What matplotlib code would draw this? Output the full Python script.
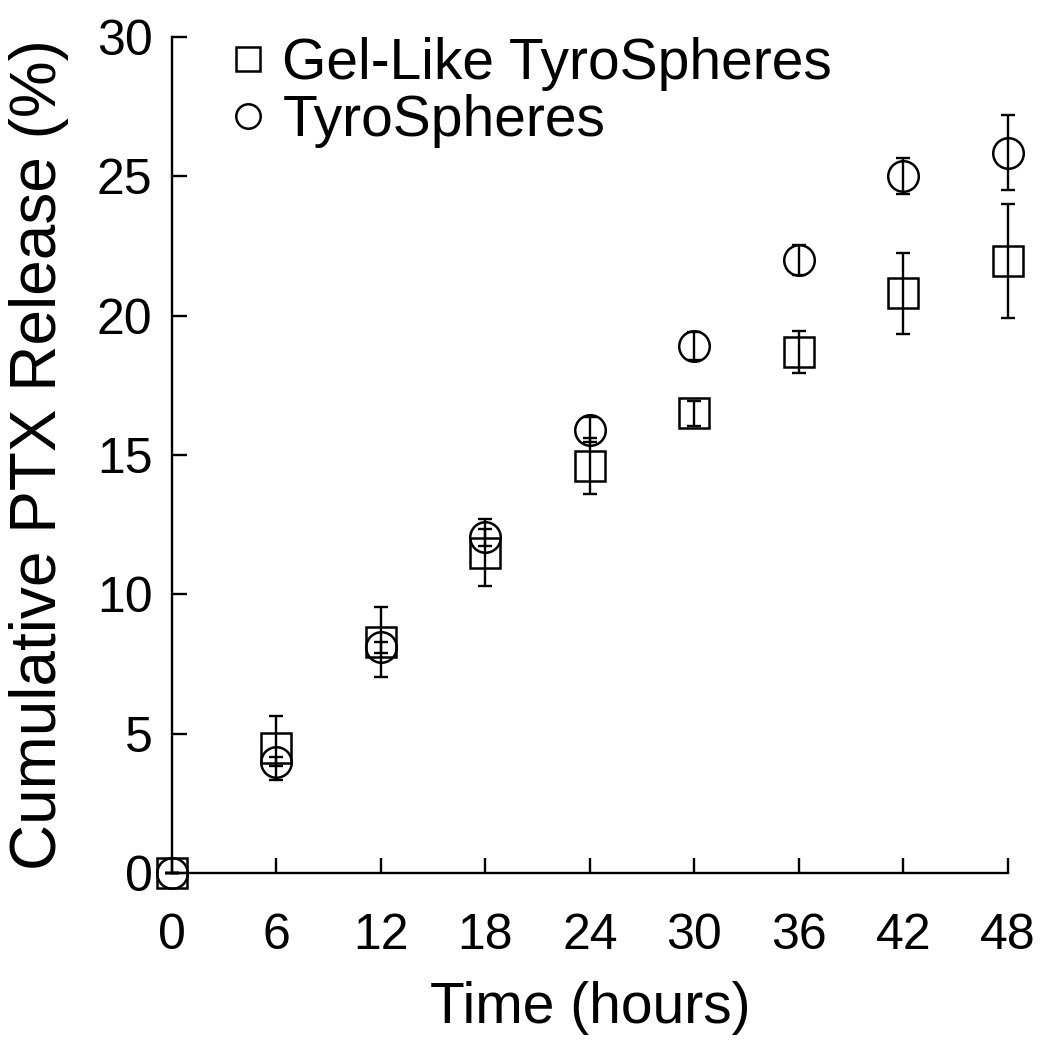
import numpy as np
import matplotlib
matplotlib.use('Agg')
import matplotlib.pyplot as plt

# --- データ ---
time_h = [0, 6, 12, 18, 24, 30, 36, 42, 48]
gel_mean = [0.0, 4.5, 8.3, 11.5, 14.6, 16.5, 18.7, 20.8, 21.95]
gel_err = [0.0, 1.15, 1.25, 1.2, 1.0, 0.45, 0.75, 1.45, 2.05]
tyro_mean = [0.0, 4.0, 8.1, 12.05, 15.9, 18.9, 22.0, 25.0, 25.85]
tyro_err = [0.0, 0.15, 0.2, 0.3, 0.45, 0.5, 0.55, 0.65, 1.35]

x_ticks = [0, 6, 12, 18, 24, 30, 36, 42, 48]
y_ticks = [0, 5, 10, 15, 20, 25, 30]

plt.rcParams['font.family'] = ['Liberation Sans', 'DejaVu Sans']

fig = plt.figure(figsize=(10.5, 10.4), dpi=100)
ax = fig.add_axes([0.1638, 0.1606, 0.7962, 0.8038])

common = dict(fmt='none', ecolor='black', elinewidth=1.7, capsize=4.8,
              capthick=1.7, clip_on=False)
ax.errorbar(time_h, gel_mean, yerr=gel_err, **common)
ax.errorbar(time_h, tyro_mean, yerr=tyro_err, **common)

ax.plot(time_h, gel_mean, linestyle='none', marker='s', ms=21, mfc='none',
        mec='black', mew=1.8, clip_on=False, label='Gel-Like TyroSpheres')
ax.plot(time_h, tyro_mean, linestyle='none', marker='o', ms=22, mfc='none',
        mec='black', mew=1.8, clip_on=False, label='TyroSpheres')

ax.set_xlim(0, 48)
ax.set_ylim(0, 30)
ax.set_xticks(x_ticks)
ax.set_yticks(y_ticks)

for s in ['top', 'right']:
    ax.spines[s].set_visible(False)
for s in ['left', 'bottom']:
    ax.spines[s].set_linewidth(1.7)

ax.tick_params(axis='both', direction='in', length=10.5, width=1.7,
               labelsize=36)
ax.tick_params(axis='x', pad=29)
ax.tick_params(axis='y', pad=14)

ax.set_xlabel('Time (hours)', fontsize=41, labelpad=16)
ax.set_ylabel('Cumulative PTX Release (%)', fontsize=46, labelpad=20)

leg = ax.legend(loc='upper left', bbox_to_anchor=(0.03, 1.027), frameon=False,
                fontsize=41, markerscale=0.8, handlelength=1.0,
                handletextpad=0.1, labelspacing=0.05, borderaxespad=0)

fig.savefig('out.png', dpi=100)
